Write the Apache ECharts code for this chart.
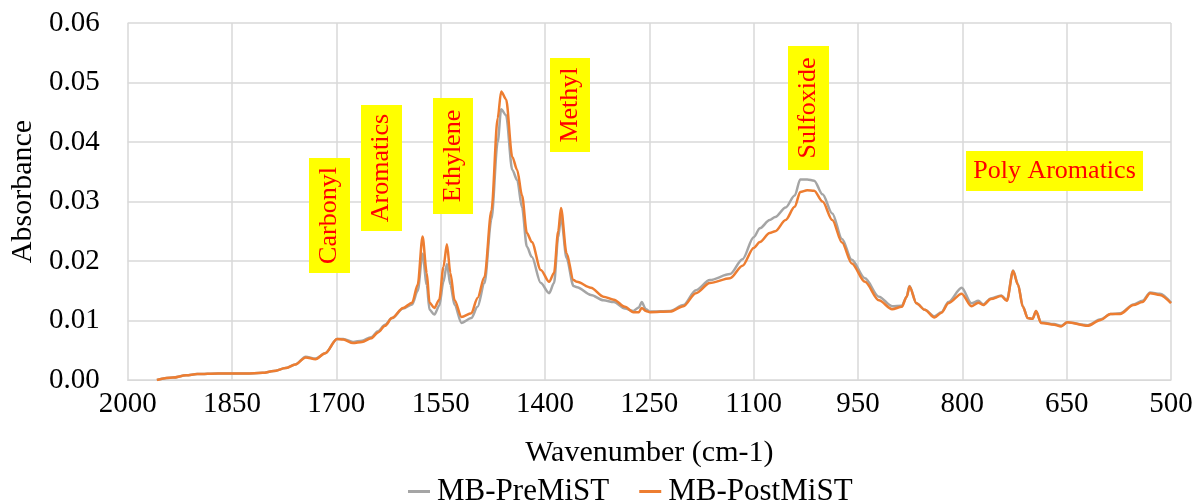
<!DOCTYPE html>
<html>
<head>
<meta charset="utf-8">
<script src="https://cdn.jsdelivr.net/npm/echarts@6/dist/echarts.min.js"></script>
<style>
  html, body { margin: 0; padding: 0; background: #fff; }
  #chart { width: 1199px; height: 502px; }
</style>
</head>
<body>
<div id="chart"></div>
<script>
// FTIR spectra, wavenumber (cm-1) vs absorbance
const wavenumber = [
  1958, 1935, 1916, 1900, 1870, 1830, 1806, 1790, 1773, 1759,
  1744, 1730, 1716, 1699, 1690, 1676, 1663, 1650, 1640, 1630,
  1620, 1604, 1591, 1583, 1576, 1570, 1566, 1559, 1552, 1546,
  1541, 1536, 1530, 1520, 1506, 1497, 1487, 1477, 1468, 1463,
  1456, 1447, 1440, 1433, 1426, 1419, 1406, 1394, 1387, 1381,
  1377, 1369, 1359, 1354, 1334, 1316, 1301, 1285, 1273, 1265,
  1261, 1255, 1249, 1220, 1201, 1183, 1163, 1134, 1116, 1100,
  1091, 1077, 1069, 1054, 1041, 1033, 1023, 1013, 1001, 987,
  973, 959, 940, 920, 901, 887, 880, 876, 866, 854,
  840, 830, 820, 801, 787, 777, 770, 759, 744, 736,
  727, 720, 713, 706, 699, 694, 687, 668, 658, 649,
  620, 601, 587, 573, 554, 541, 530, 516, 500
];

const preMiST = [
  0.0000, 0.0004, 0.0008, 0.0010, 0.0011, 0.0011, 0.0012, 0.0015, 0.0020, 0.0026,
  0.0039, 0.0036, 0.0045, 0.0069, 0.0069, 0.0064, 0.0066, 0.0072, 0.0082, 0.0093,
  0.0104, 0.0120, 0.0127, 0.0150, 0.0212, 0.0160, 0.0118, 0.0110, 0.0125, 0.0165,
  0.0195, 0.0160, 0.0126, 0.0096, 0.0104, 0.0123, 0.0163, 0.0270, 0.0400, 0.0455,
  0.0445, 0.0353, 0.0336, 0.0290, 0.0224, 0.0207, 0.0163, 0.0146, 0.0163, 0.0240,
  0.0274, 0.0205, 0.0158, 0.0156, 0.0143, 0.0134, 0.0131, 0.0120, 0.0116, 0.0122,
  0.0131, 0.0119, 0.0115, 0.0116, 0.0126, 0.0151, 0.0168, 0.0178, 0.0203, 0.0240,
  0.0255, 0.0269, 0.0274, 0.0290, 0.0310, 0.0337, 0.0337, 0.0335, 0.0312, 0.0280,
  0.0237, 0.0202, 0.0171, 0.0140, 0.0124, 0.0125, 0.0140, 0.0158, 0.0129, 0.0118,
  0.0107, 0.0114, 0.0131, 0.0155, 0.0129, 0.0133, 0.0127, 0.0137, 0.0142, 0.0134,
  0.0184, 0.0161, 0.0124, 0.0104, 0.0103, 0.0116, 0.0097, 0.0094, 0.0091, 0.0097,
  0.0092, 0.0102, 0.0111, 0.0112, 0.0127, 0.0133, 0.0147, 0.0145, 0.0130
];

const postMiST = [
  0.0000, 0.0004, 0.0008, 0.0010, 0.0011, 0.0011, 0.0012, 0.0015, 0.0020, 0.0026,
  0.0038, 0.0035, 0.0045, 0.0069, 0.0068, 0.0062, 0.0064, 0.0070, 0.0080, 0.0091,
  0.0104, 0.0121, 0.0130, 0.0160, 0.0241, 0.0180, 0.0130, 0.0121, 0.0135, 0.0190,
  0.0228, 0.0180, 0.0134, 0.0106, 0.0112, 0.0138, 0.0173, 0.0285, 0.0440, 0.0485,
  0.0472, 0.0375, 0.0353, 0.0310, 0.0247, 0.0232, 0.0185, 0.0165, 0.0180, 0.0250,
  0.0289, 0.0213, 0.0168, 0.0165, 0.0155, 0.0140, 0.0135, 0.0123, 0.0114, 0.0114,
  0.0121, 0.0116, 0.0114, 0.0115, 0.0124, 0.0146, 0.0163, 0.0171, 0.0192, 0.0222,
  0.0232, 0.0247, 0.0250, 0.0269, 0.0291, 0.0316, 0.0319, 0.0318, 0.0300, 0.0269,
  0.0231, 0.0196, 0.0165, 0.0134, 0.0119, 0.0123, 0.0140, 0.0157, 0.0129, 0.0118,
  0.0105, 0.0113, 0.0129, 0.0145, 0.0124, 0.0130, 0.0126, 0.0136, 0.0141, 0.0133,
  0.0183, 0.0160, 0.0123, 0.0104, 0.0103, 0.0116, 0.0096, 0.0093, 0.0090, 0.0097,
  0.0091, 0.0101, 0.0111, 0.0111, 0.0126, 0.0131, 0.0146, 0.0143, 0.0129
];

const seriesNames = ['MB-PreMiST', 'MB-PostMiST'];
const bandLabels = ['Carbonyl', 'Aromatics', 'Ethylene', 'Methyl', 'Sulfoxide', 'Poly Aromatics'];

// Axis runs from 2000 down to 500 cm-1; plotted as distance from 2000
const WN_START = 2000;
const WN_END = 500;
const WN_STEP = 150;

const toPairs = (vals) => wavenumber.map((w, i) => [WN_START - w, vals[i]]);

const FONT = '"Liberation Serif", "Times New Roman", serif';

const chart = echarts.init(document.getElementById('chart'), null, { renderer: 'canvas' });

// Annotation boxes (yellow tags with red text)
const boxLayout = [
  { x: 309, y: 158, w: 41, h: 115, vertical: true },
  { x: 361, y: 105, w: 41, h: 126, vertical: true },
  { x: 433, y: 98,  w: 40, h: 116, vertical: true },
  { x: 550, y: 58,  w: 40, h: 94,  vertical: true },
  { x: 788, y: 46,  w: 41, h: 124, vertical: true },
  { x: 966, y: 151, w: 177, h: 40, vertical: false }
];

const graphics = [];
bandLabels.forEach((label, i) => {
  const b = boxLayout[i];
  graphics.push({
    type: 'rect',
    shape: { x: b.x, y: b.y, width: b.w, height: b.h },
    style: { fill: '#ffff00' },
    z: 10
  });
  graphics.push({
    type: 'text',
    x: b.x + b.w / 2,
    y: b.y + b.h / 2,
    rotation: b.vertical ? Math.PI / 2 : 0,
    style: {
      text: label,
      fill: '#ff0000',
      font: '26px ' + FONT,
      align: 'center',
      verticalAlign: 'middle'
    },
    z: 11
  });
});

chart.setOption({
  animation: false,
  backgroundColor: '#ffffff',
  grid: { left: 121, right: 28, top: 23, bottom: 122, containLabel: false },
  xAxis: {
    type: 'value',
    min: 0,
    max: WN_START - WN_END,
    interval: WN_STEP,
    name: 'Wavenumber (cm-1)',
    nameLocation: 'middle',
    nameGap: 58,
    nameTextStyle: { fontFamily: FONT, fontSize: 30, color: '#000' },
    axisLine: { show: true, lineStyle: { color: '#d9d9d9', width: 1 } },
    axisTick: { show: false },
    axisLabel: {
      margin: 10,
      fontFamily: FONT, fontSize: 29, color: '#000',
      formatter: (v) => String(WN_START - v)
    },
    splitLine: { show: true, lineStyle: { color: '#d9d9d9', width: 1.5 } }
  },
  yAxis: {
    type: 'value',
    min: 0,
    max: 0.06,
    interval: 0.01,
    name: 'Absorbance',
    nameLocation: 'middle',
    nameGap: 76,
    nameTextStyle: { fontFamily: FONT, fontSize: 30, color: '#000', padding: [0, 0, 0, 20] },
    axisLine: { show: false },
    axisTick: { show: false },
    axisLabel: {
      margin: 28,
      fontFamily: FONT, fontSize: 29, color: '#000',
      formatter: (v) => v.toFixed(2)
    },
    splitLine: { show: true, lineStyle: { color: '#d9d9d9', width: 1.5 } }
  },
  legend: {
    top: 471,
    left: 403,
    itemWidth: 22,
    itemHeight: 3,
    itemGap: 30,
    icon: 'rect',
    textStyle: { fontFamily: FONT, fontSize: 31, color: '#000', padding: [0, 0, 0, 2] },
    data: seriesNames
  },
  series: [
    {
      name: seriesNames[0],
      type: 'line',
      data: toPairs(preMiST),
      showSymbol: false,
      smooth: 0.3,
      smoothMonotone: 'x',
      color: '#a5a5a5',
      lineStyle: { color: '#a5a5a5', width: 2.5 },
      z: 2
    },
    {
      name: seriesNames[1],
      type: 'line',
      data: toPairs(postMiST),
      showSymbol: false,
      smooth: 0.3,
      smoothMonotone: 'x',
      color: '#ed7d31',
      lineStyle: { color: '#ed7d31', width: 2.5 },
      z: 3
    }
  ],
  graphic: graphics
});
</script>
</body>
</html>
